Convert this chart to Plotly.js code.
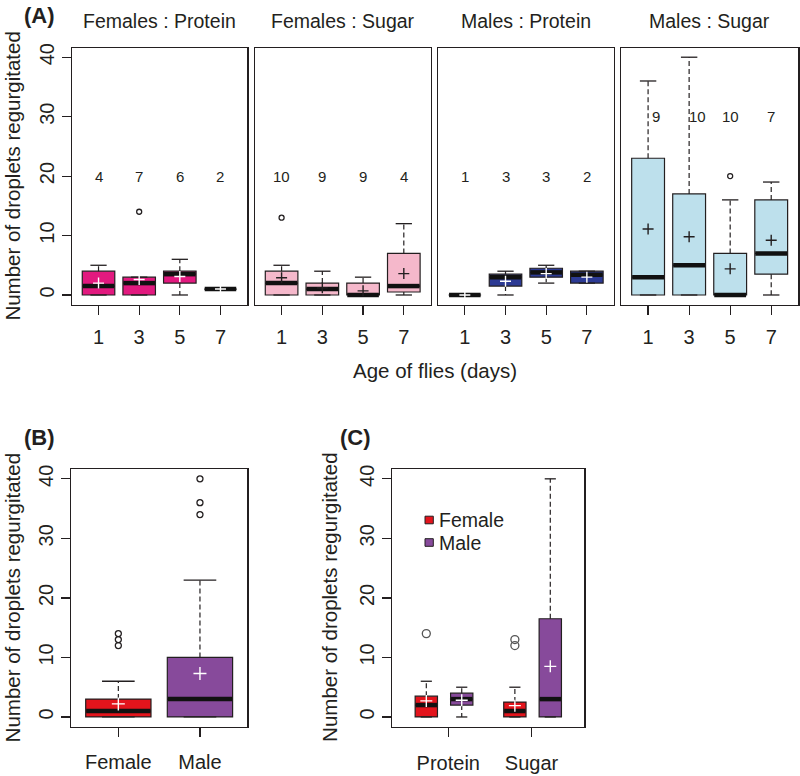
<!DOCTYPE html>
<html>
<head>
<meta charset="utf-8">
<script src="https://cdn.plot.ly/plotly-3.0.1.min.js"></script>
<style>html,body{margin:0;padding:0;background:#fff;}#chart{width:800px;height:776px;}</style>
</head>
<body>
<div id="chart"></div>
<script>
// ---------------- DATA ----------------
const ages = ['1', '3', '5', '7'];
const panelTitles = ['Females : Protein', 'Females : Sugar', 'Males : Protein', 'Males : Sugar'];

// Panel A: Females : Protein
const fpLower  = [0, 0, 0, 1];
const fpQ1     = [0, 0, 2, 1];
const fpMedian = [1.5, 2, 3.5, 1];
const fpQ3     = [4, 3, 4, 1];
const fpUpper  = [5, 3, 6, 1];
const fpMean   = [2, 2.6, 3.1, 1];
const fpN      = [4, 7, 6, 2];
const fpOut    = [[], [14], [], []];

// Panel A: Females : Sugar
const fsLower  = [0, 0, 0, 0];
const fsQ1     = [0, 0, 0, 0.5];
const fsMedian = [2, 1, 0, 1.5];
const fsQ3     = [4, 2, 2, 7];
const fsUpper  = [5, 4, 3, 12];
const fsMean   = [2.9, 1.2, 0.7, 3.6];
const fsN      = [10, 9, 9, 4];
const fsOut    = [[13], [], [], []];

// Panel A: Males : Protein
const mpLower  = [0, 0, 2, 2];
const mpQ1     = [0, 1.5, 3, 2];
const mpMedian = [0, 3, 3.8, 3.4];
const mpQ3     = [0, 3.5, 4.5, 4];
const mpUpper  = [0, 4, 5, 4];
const mpMean   = [0, 2.3, 3.6, 3];
const mpN      = [1, 3, 3, 2];
const mpOut    = [[], [], [], []];

// Panel A: Males : Sugar
const msLower  = [0, 0, 0, 0];
const msQ1     = [0, 0, 0, 3.5];
const msMedian = [3, 5, 0, 7];
const msQ3     = [23, 17, 7, 16];
const msUpper  = [36, 40, 16, 19];
const msMean   = [11.1, 9.8, 4.4, 9.2];
const msN      = [9, 10, 10, 7];
const msOut    = [[], [], [20], []];

// Panel B: by sex
const sexes    = ['Female', 'Male'];
const bLower   = [0, 0];
const bQ1      = [0, 0];
const bMedian  = [1, 3];
const bQ3      = [3, 10];
const bUpper   = [6, 23];
const bMean    = [2.2, 7.3];
const bOut     = [[12, 13, 14], [34, 36, 40]];

// Panel C: by diet and sex
const diets    = ['Protein', 'Sugar'];
const cfLower  = [0, 0];
const cfQ1     = [0, 0];
const cfMedian = [2, 1];
const cfQ3     = [3.5, 2.5];
const cfUpper  = [6, 5];
const cfMean   = [2.7, 1.9];
const cfOut    = [[14], [12, 13]];
const cmLower  = [0, 0];
const cmQ1     = [2, 0];
const cmMedian = [3, 3];
const cmQ3     = [4, 16.5];
const cmUpper  = [5, 40];
const cmMean   = [2.8, 8.5];
const cmOut    = [[], []];

// ---------------- STYLE ----------------
const W = 800, H = 776;
const INK = '#231f20';
const FONT = 'Liberation Sans, Arial, sans-serif';
const colFP = '#e2197f', colFS = '#f5b8cb', colMP = '#2c3a94', colMS = '#bde0ec';
const colF = '#e3141c', colM = '#874a9b';
const px = x => x / W;
const py = y => 1 - y / H;
const LINE_SYM = 1.4; // plotly draws line/cross symbols at 1.4 * size/2

const yRange = [-1.6, 41.6];
const aXRange = [0.34, 4.66];
const bXRange = [0.42, 2.58];
const cXRange = [0.04, 5.46];

const aDom = [[71.7, 247.3], [254.7, 430.7], [438, 613.7], [621, 798.3]];
const aYDom = [47.7, 304.5];
const bDom = [71, 247.3];
const cDom = [392.3, 584.3];
const bcYDom = [469.3, 726.5];

const traces = [];
function addGroup(o) {
  const xs = o.x, n = xs.length;
  const ppu = (o.dom[1] - o.dom[0]) / (o.range[1] - o.range[0]);
  const bwPx = o.bw * ppu;
  const wx = [], wy = [];
  const cx = [], cy = [];
  for (let i = 0; i < n; i++) {
    wx.push(xs[i], xs[i], null, xs[i], xs[i], null);
    wy.push(o.q3[i], o.upper[i], null, o.q1[i], o.lower[i], null);
    cx.push(xs[i], xs[i]);
    cy.push(o.upper[i], o.lower[i]);
  }
  const common = {xaxis: o.xa, yaxis: o.ya, hoverinfo: 'skip', showlegend: false, cliponaxis: false};
  traces.push(Object.assign({type: 'scatter', mode: 'lines', x: wx, y: wy,
    line: {color: INK, width: 1.2, dash: '5px,3px'}}, common));
  traces.push(Object.assign({type: 'scatter', mode: 'markers', x: cx, y: cy,
    marker: {symbol: 'line-ew', size: bwPx * 0.5 / LINE_SYM, color: INK, line: {color: INK, width: 1.3}}}, common));
  traces.push({type: 'box', xaxis: o.xa, yaxis: o.ya, x: xs, q1: o.q1, median: o.median, q3: o.q3,
    lowerfence: o.q1, upperfence: o.q3, width: o.bw, whiskerwidth: 0, boxpoints: false,
    fillcolor: o.color, line: {color: INK, width: 1.2}, hoverinfo: 'skip', showlegend: false});
  traces.push(Object.assign({type: 'scatter', mode: 'markers', x: xs, y: o.median,
    marker: {symbol: 'line-ew', size: (bwPx - 1) / LINE_SYM, color: '#111', line: {color: '#111', width: 4.5}}}, common));
  traces.push(Object.assign({type: 'scatter', mode: 'markers', x: xs, y: o.mean,
    marker: {symbol: 'cross-thin', size: o.crossSize / LINE_SYM, color: o.meanColor, line: {color: o.meanColor, width: 1.4}}}, common));
  const ox = [], oy = [];
  for (let i = 0; i < n; i++) o.out[i].forEach(v => { ox.push(xs[i]); oy.push(v); });
  if (ox.length) traces.push(Object.assign({type: 'scatter', mode: 'markers', x: ox, y: oy,
    marker: {symbol: 'circle-open', size: o.outSize, color: o.outColor, line: {color: o.outColor, width: 1.3}}}, common));
}

const aPos = ages.map((a, i) => i + 1);
const aSets = [
  {lower: fpLower, q1: fpQ1, median: fpMedian, q3: fpQ3, upper: fpUpper, mean: fpMean, out: fpOut, color: colFP, meanColor: '#fff'},
  {lower: fsLower, q1: fsQ1, median: fsMedian, q3: fsQ3, upper: fsUpper, mean: fsMean, out: fsOut, color: colFS, meanColor: INK},
  {lower: mpLower, q1: mpQ1, median: mpMedian, q3: mpQ3, upper: mpUpper, mean: mpMean, out: mpOut, color: colMP, meanColor: '#fff'},
  {lower: msLower, q1: msQ1, median: msMedian, q3: msQ3, upper: msUpper, mean: msMean, out: msOut, color: colMS, meanColor: INK}
];
const aNs = [fpN, fsN, mpN, msN];
aSets.forEach((s, k) => {
  const sfx = k === 0 ? '' : String(k + 1);
  addGroup(Object.assign({x: aPos, xa: 'x' + sfx, ya: 'y' + sfx, dom: aDom[k], range: aXRange, bw: 0.8,
    outSize: 5, outColor: INK, crossSize: 11}, s));
});

const bPos = sexes.map((s, i) => i + 1);
const bColors = [colF, colM];
bPos.forEach((p, i) => {
  addGroup({x: [p], xa: 'x5', ya: 'y5', dom: bDom, range: bXRange, bw: 0.8,
    lower: [bLower[i]], q1: [bQ1[i]], median: [bMedian[i]], q3: [bQ3[i]], upper: [bUpper[i]], mean: [bMean[i]], out: [bOut[i]],
    color: bColors[i], meanColor: '#fff', outSize: 6, outColor: INK, crossSize: 13});
});

const cFemalePos = [1, 3.5];
const cMalePos = [2, 4.5];
const cTickPos = [1.62, 3.97];
addGroup({x: cFemalePos, xa: 'x6', ya: 'y6', dom: cDom, range: cXRange, bw: 0.63,
  lower: cfLower, q1: cfQ1, median: cfMedian, q3: cfQ3, upper: cfUpper, mean: cfMean, out: cfOut,
  color: colF, meanColor: '#fff', outSize: 8, outColor: '#555', crossSize: 12});
addGroup({x: cMalePos, xa: 'x6', ya: 'y6', dom: cDom, range: cXRange, bw: 0.63,
  lower: cmLower, q1: cmQ1, median: cmMedian, q3: cmQ3, upper: cmUpper, mean: cmMean, out: cmOut,
  color: colM, meanColor: '#fff', outSize: 8, outColor: '#555', crossSize: 12});

// ---------------- LAYOUT ----------------
const tickFont = {family: FONT, size: 20, color: INK};
function yAx(anchor, dom, showLabels) {
  return {anchor: anchor, domain: [py(dom[1]), py(dom[0])], range: yRange, showgrid: false, zeroline: false,
    showline: true, mirror: true, linecolor: INK, linewidth: 1.2,
    tickvals: showLabels ? [0, 10, 20, 30, 40] : [], ticks: showLabels ? 'outside' : '', ticklen: 9, tickwidth: 1.2,
    tickcolor: INK, tickangle: -90, showticklabels: showLabels, tickfont: tickFont, fixedrange: true};
}
function xAx(anchor, dom, range, vals, text, standoff) {
  return {anchor: anchor, domain: [px(dom[0]), px(dom[1])], range: range, showgrid: false, zeroline: false,
    showline: true, mirror: true, linecolor: INK, linewidth: 1.2,
    tickvals: vals, ticktext: text, ticks: 'outside', ticklen: 9, tickwidth: 1.2, tickcolor: INK,
    ticklabelstandoff: standoff, tickfont: tickFont, fixedrange: true};
}

const layout = {
  width: W, height: H, margin: {l: 0, r: 0, t: 0, b: 0},
  paper_bgcolor: '#fff', plot_bgcolor: '#fff', showlegend: false,
  font: {family: FONT, color: INK},
  boxmode: 'overlay',
  xaxis: xAx('y', aDom[0], aXRange, aPos, ages, 5),
  xaxis2: xAx('y2', aDom[1], aXRange, aPos, ages, 5),
  xaxis3: xAx('y3', aDom[2], aXRange, aPos, ages, 5),
  xaxis4: xAx('y4', aDom[3], aXRange, aPos, ages, 5),
  xaxis5: xAx('y5', bDom, bXRange, bPos, sexes, 8),
  xaxis6: xAx('y6', cDom, cXRange, cTickPos, diets, 9),
  yaxis: yAx('x', aYDom, true),
  yaxis2: yAx('x2', aYDom, false),
  yaxis3: yAx('x3', aYDom, false),
  yaxis4: yAx('x4', aYDom, false),
  yaxis5: yAx('x5', bcYDom, true),
  yaxis6: yAx('x6', bcYDom, true),
  annotations: [],
  shapes: []
};

const ann = layout.annotations;
function paperText(text, x, y, size, opts) {
  ann.push(Object.assign({xref: 'paper', yref: 'paper', x: px(x), y: py(y), text: text, showarrow: false,
    xanchor: 'center', yanchor: 'middle', font: {family: FONT, size: size, color: INK}}, opts || {}));
}
// panel titles
panelTitles.forEach((t, k) => paperText(t, (aDom[k][0] + aDom[k][1]) / 2, 21, 19.5));
paperText('<b>(A)</b>', 39, 15, 22);
paperText('<b>(B)</b>', 39, 437, 22);
paperText('<b>(C)</b>', 355, 437, 22);
paperText('Age of flies (days)', 435, 370, 20.5);
const yTitle = 'Number of droplets regurgitated';
paperText(yTitle, 12.5, (aYDom[0] + aYDom[1]) / 2, 20.5, {textangle: -90});
paperText(yTitle, 12.5, (bcYDom[0] + bcYDom[1]) / 2, 20.5, {textangle: -90});
paperText(yTitle, 330, (bcYDom[0] + bcYDom[1]) / 2, 20.5, {textangle: -90});

// sample sizes in panel A
const nLevel = [20, 20, 20, 30];
const nShift = [[0, 0, 0, 0], [0, 0, 0, 0], [0, 0, 0, 0], [8, 8, 0, 0]];
aNs.forEach((arr, k) => {
  const sfx = k === 0 ? '' : String(k + 1);
  arr.forEach((v, i) => ann.push({xref: 'x' + sfx, yref: 'y' + sfx, x: aPos[i], y: nLevel[k], text: String(v),
    showarrow: false, xshift: nShift[k][i], font: {family: FONT, size: 15, color: INK}}));
});

// legend in panel C
const legendItems = [{label: 'Female', color: colF, y: 520}, {label: 'Male', color: colM, y: 542.5}];
legendItems.forEach(it => {
  layout.shapes.push({type: 'rect', xref: 'paper', yref: 'paper', x0: px(425), x1: px(433.3),
    y0: py(it.y + 3.8), y1: py(it.y - 3.8), fillcolor: it.color, line: {color: INK, width: 1}});
  paperText(it.label, 436.5, it.y, 19.5, {xanchor: 'left'});
});

Plotly.newPlot('chart', traces, layout, {staticPlot: true, displayModeBar: false});
</script>
</body>
</html>
